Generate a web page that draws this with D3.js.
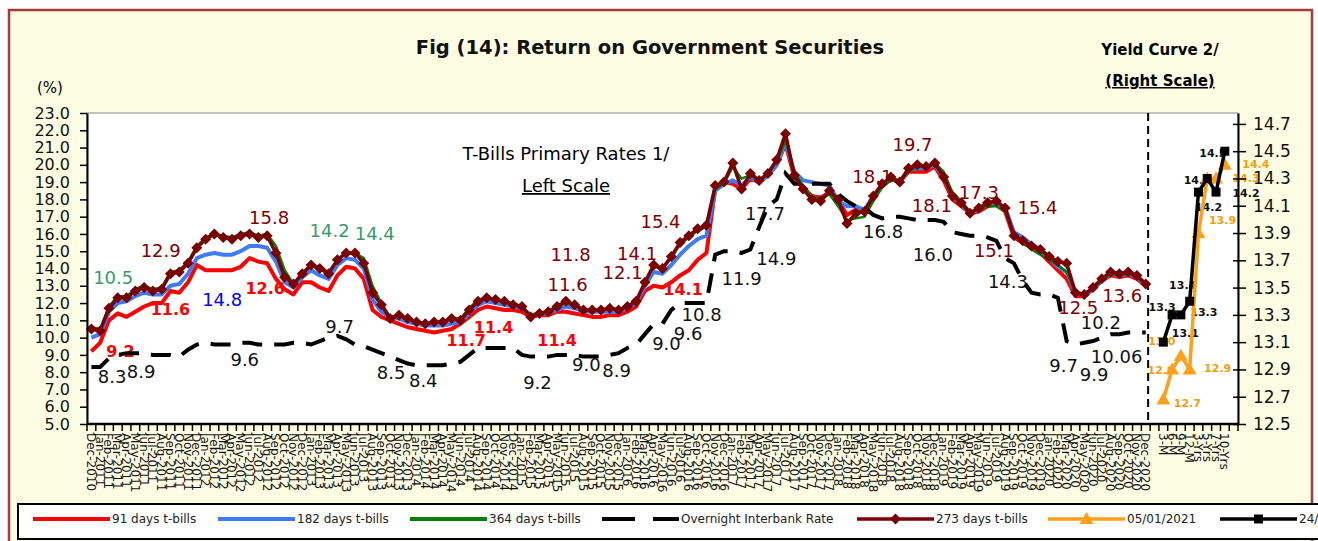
<!DOCTYPE html>
<html>
<head>
<meta charset="utf-8">
<script src="https://cdn.jsdelivr.net/npm/d3@7"></script>
<style>
html, body { margin: 0; padding: 0; background: #fff; }
svg { display: block; }
text { font-family: "DejaVu Sans", sans-serif; }
</style>
</head>
<body>
<svg id="chart" width="1318" height="541"></svg>
<script>
// ---- data ----
const monthNames = ["Jan","Feb","Mar","Apr","May","Jun","Jul","Aug","Sep","Oct","Nov","Dec"];
const yearList = ["2010","2011","2012","2013","2014","2015","2016","2017","2018","2019","2020"];
const tenors = ["3-M","6-M","9-M","12-M","3-Yrs","5-Yrs","7-Yrs","10-Yrs"];

const t91 = [9.2,9.7,11.0,11.4,11.2,11.5,11.8,12.0,12.0,12.7,
  12.6,13.2,14.2,13.9,13.9,13.9,13.9,14.1,14.6,14.4,
  14.3,13.4,12.8,12.5,13.2,13.2,12.9,12.7,13.6,14.1,
  14.0,13.4,11.6,11.2,11.0,10.8,10.6,10.5,10.4,10.3,
  10.4,10.5,10.8,11.2,11.6,11.8,11.7,11.6,11.6,11.5,
  11.2,11.3,11.3,11.5,11.5,11.4,11.3,11.2,11.2,11.3,
  11.3,11.5,11.8,12.7,13.0,12.9,13.2,13.6,13.9,14.5,
  14.9,18.6,19.0,18.9,18.6,19.2,19.0,19.4,20.0,21.2,
  19.3,18.6,18.2,18.1,18.4,17.9,17.1,17.4,17.3,18.1,
  18.8,19.2,19.0,19.6,19.6,19.6,19.9,19.1,18.0,17.6,
  17.2,17.3,17.6,17.7,17.3,15.8,15.5,15.2,14.9,14.4,
  13.9,13.4,12.4,12.4,12.8,13.3,13.6,13.5,13.6,13.4,
  13.0];

const t182 = [10.0,10.2,11.5,12.0,12.1,12.4,12.6,12.5,12.5,13.0,
  13.1,13.7,14.6,14.8,14.9,14.8,14.8,15.0,15.3,15.3,
  15.2,14.4,13.2,12.9,13.5,13.9,13.6,13.4,14.2,14.6,
  14.5,14.0,12.2,11.5,11.2,11.1,10.9,10.8,10.7,10.7,
  10.7,10.8,10.9,11.4,11.9,12.1,12.0,11.9,11.8,11.7,
  11.3,11.4,11.4,11.6,11.8,11.7,11.5,11.5,11.5,11.5,
  11.5,11.7,12.0,13.0,13.8,13.7,14.2,14.8,15.3,15.7,
  15.9,18.5,18.9,19.1,18.8,19.3,19.0,19.4,20.0,21.3,
  19.6,19.1,19.0,18.9,18.8,17.9,17.6,17.6,17.4,18.2,
  18.8,19.2,19.0,19.7,19.8,19.8,20.0,19.3,18.2,17.7,
  17.2,17.4,17.7,17.8,17.5,16.1,15.8,15.4,15.1,14.6,
  14.1,13.8,12.6,12.5,12.8,13.3,13.7,13.6,13.7,13.5,
  13.1];

const t364 = [10.6,10.5,11.8,12.4,12.4,12.8,13.0,12.8,12.9,13.8,
  13.9,14.4,15.3,15.8,16.0,15.9,15.8,16.0,16.1,15.9,
  16.0,15.3,13.9,13.1,13.7,14.2,14.1,13.8,14.5,14.9,
  14.9,14.6,13.0,12.0,11.2,11.3,11.1,10.9,10.8,10.9,
  10.9,11.1,11.1,11.7,12.2,12.3,12.2,12.1,12.0,11.8,
  11.3,11.4,11.5,11.8,12.0,11.9,11.6,11.6,11.6,11.7,
  11.6,11.8,12.1,13.2,14.1,14.0,14.6,15.4,15.8,16.2,
  16.4,18.6,18.9,19.9,19.2,19.4,19.1,19.5,20.2,21.4,
  19.6,18.8,18.2,18.0,18.3,17.6,16.8,16.9,17.0,17.9,
  18.7,19.1,19.0,19.6,19.9,19.9,20.1,19.6,18.4,17.9,
  17.3,17.4,17.6,17.6,17.3,16.0,15.5,15.1,14.8,14.5,
  14.2,13.8,12.6,12.5,12.8,13.3,13.7,13.6,13.7,13.5,
  13.1];

const t273 = [10.5,10.4,11.7,12.3,12.3,12.7,12.9,12.7,12.8,13.7,
  13.8,14.3,15.2,15.7,16.0,15.8,15.7,15.9,16.0,15.8,
  15.9,14.9,13.5,13.1,13.7,14.2,14.0,13.7,14.5,14.9,
  14.9,14.3,12.6,11.9,11.1,11.3,11.1,10.9,10.8,10.9,
  10.9,11.1,11.0,11.6,12.1,12.3,12.2,12.1,11.9,11.8,
  11.2,11.4,11.5,11.8,12.1,11.9,11.6,11.6,11.6,11.7,
  11.6,11.8,12.1,13.2,14.2,14.0,14.7,15.5,15.9,16.3,
  16.5,18.8,19.0,20.1,18.6,19.5,19.1,19.5,20.3,21.8,
  19.4,18.6,18.0,17.9,18.5,18.0,16.6,17.2,17.3,18.2,
  18.9,19.3,19.0,19.8,20.0,19.9,20.1,19.3,18.2,17.8,
  17.2,17.5,17.8,17.9,17.5,15.9,15.6,15.3,15.1,14.7,
  14.4,14.3,12.6,12.5,12.9,13.4,13.8,13.7,13.8,13.6,
  13.1];

const overnight = [8.3,8.3,8.8,9.0,9.1,9.1,9.1,9.0,9.0,9.0,
  8.9,9.3,9.6,9.7,9.6,9.6,9.6,9.7,9.7,9.6,
  9.6,9.6,9.6,9.7,9.7,9.6,9.8,10.0,10.1,9.9,
  9.6,9.5,9.3,9.1,8.9,8.7,8.5,8.4,8.4,8.4,
  8.4,8.5,8.6,9.0,9.4,9.4,9.4,9.4,9.4,9.0,
  8.9,8.9,8.9,9.0,9.0,9.0,8.9,8.9,8.9,9.0,
  9.1,9.4,9.6,10.2,10.8,10.8,11.6,12.0,12.0,12.0,
  12.0,14.8,15.0,15.0,14.9,15.1,16.4,17.6,18.0,19.5,
  18.9,18.9,18.9,18.9,18.9,18.3,17.9,17.6,17.5,17.1,
  16.9,17.0,17.0,16.9,16.8,16.8,16.8,16.7,16.1,16.0,
  15.9,15.9,15.8,15.6,14.6,14.3,13.3,12.6,12.5,12.5,
  12.3,9.8,9.6,9.7,9.8,10.0,10.2,10.2,10.3,10.3,
  10.3];

const curve0501 = [12.68,12.9,13.0,12.9,13.9,14.3,14.3,14.4];
const curve2412 = [13.1,13.3,13.3,13.4,14.2,14.3,14.2,14.5];

const leftTicks = [5,6,7,8,9,10,11,12,13,14,15,16,17,18,19,20,21,22,23];
const rightTicks = [12.5,12.7,12.9,13.1,13.3,13.5,13.7,13.9,14.1,14.3,14.5,14.7];

// month categories Dec-2010 .. Dec-2020
const months = [];
for (let k = 0; k < t273.length; k++) {
  const m = (11 + k) % 12, y = Math.floor((11 + k) / 12);
  months.push(monthNames[m] + "-" + yearList[y]);
}
const categories = months.concat([" "], tenors, ["  "]);

// ---- layout ----
const M = { left: 87, right: 1238, top: 113, bottom: 424 };
const svg = d3.select("#chart");

const x = d3.scaleBand().domain(categories).range([M.left, M.right]);
const cx = c => x(c) + x.bandwidth() / 2;
const yL = d3.scaleLinear().domain([5, 23]).range([M.bottom, M.top]);
const yR = d3.scaleLinear().domain([12.5, 14.78]).range([M.bottom, M.top]);

// outer frame
svg.append("rect").attr("x", 9).attr("y", 10).attr("width", 1303).attr("height", 600)
  .attr("fill", "#fdfde3").attr("stroke", "#a83a3a").attr("stroke-width", 2.5);

// titles
svg.append("text").attr("x", 650).attr("y", 54).attr("text-anchor", "middle")
  .attr("font-size", 19.5).attr("font-weight", "bold").attr("fill", "#111")
  .text("Fig (14): Return on Government Securities");
svg.append("text").attr("x", 1160).attr("y", 55).attr("text-anchor", "middle")
  .attr("font-size", 15).attr("font-weight", "bold").text("Yield Curve 2/");
svg.append("text").attr("x", 1160).attr("y", 86).attr("text-anchor", "middle")
  .attr("font-size", 15).attr("font-weight", "bold").attr("text-decoration", "underline")
  .text("(Right Scale)");
svg.append("text").attr("x", 50).attr("y", 93).attr("text-anchor", "middle")
  .attr("font-size", 15).text("(%)");

// plot area
svg.append("rect").attr("x", M.left).attr("y", M.top)
  .attr("width", M.right - M.left).attr("height", M.bottom - M.top)
  .attr("fill", "#fff").attr("stroke", "#888").attr("stroke-width", 1);

svg.append("text").attr("x", 566).attr("y", 160).attr("text-anchor", "middle")
  .attr("font-size", 18).text("T-Bills Primary Rates 1/");
svg.append("text").attr("x", 566).attr("y", 192).attr("text-anchor", "middle")
  .attr("font-size", 18).attr("text-decoration", "underline").text("Left Scale");

// separator between history and yield curve
svg.append("line").attr("x1", x(" ") - 2).attr("x2", x(" ") - 2)
  .attr("y1", M.top).attr("y2", M.bottom)
  .attr("stroke", "#000").attr("stroke-width", 2).attr("stroke-dasharray", "8,5");

// ---- data labels (drawn under the series, as in the source) ----
// [text, index, dx, dy]
const lab273 = [["12.9",8,-1,-39],["15.8",20,2,-18],["11.8",55,-4,-50],["11.6",55,-7,-20],
  ["12.1",60,4,-37],["14.1",62,1,-48],["15.4",65,-2,-47],["18.1",89,-1,-19],
  ["19.7",93,4,-24],["18.1",96,-3,42],["17.3",101,0,-16],["15.4",107,6,-39],
  ["15.1",105,-20,15],["12.5",113,-6,13],["13.6",118,-6,24]];
const lab364 = [["10.5",1,13,-51],["14.2",27,1,-41],["14.4",31,11,-25]];
const lab182 = [["14.8",15,-1,45]];
const lab91 = [["9.2",0,29,0],["11.6",9,0,19],["12.6",20,-2,25],["11.7",43,-3,24],
  ["11.4",46,-2,19],["11.4",53,0,29],["14.1",67,3,14]];
const labON = [["8.3",1,12,10],["8.9",6,-3,18],["9.6",17,4,17],["9.7",27,11,-11],
  ["8.5",34,1,16],["8.4",38,-2,15],["9.2",51,-2,26],["9.0",56,3,8],["8.9",60,-2,17],
  ["9.0",65,4,20],["9.6",67,8,30],["10.8",69,4,11],["11.9",74,0,26],["14.9",75,26,9],
  ["17.7",77,-3,7],["16.8",90,1,13],["16.0",96,-2,34],["14.3",105,-6,18],
  ["10.2",115,-1,-15],["9.7",111,-3,24],["9.9",114,1,33],["10.06",116,6,22]];
const labC24 = [["13.1",0,22,-9],["13.3",1,-10,-7],["13.3",2,23,-2],["13.4",3,-7,-16],
  ["14.2",4,10,15],["14.3",5,-10,2],["14.2",6,30,1],["14.5",7,-12,2]];
const labC05 = [["12.7",0,24,4],["12.9",1,-11,1],["13.0",2,-19,-14],["12.9",3,28,-1],
  ["13.9",4,24,-13],["14.3",6,30,0],["14.4",7,31,0]];

const gLab = svg.append("g").attr("dominant-baseline", "central").attr("text-anchor", "middle");
function addLabels(list, vals, cats, ys, color, size, weight) {
  list.forEach(([t, i, dx, dy]) => {
    gLab.append("text").attr("x", cx(cats[i]) + dx).attr("y", ys(vals[i]) + dy)
      .attr("fill", color).attr("font-size", size).attr("font-weight", weight).text(t);
  });
}
addLabels(lab273, t273, months, yL, "#800000", 18, "normal");
addLabels(lab364, t364, months, yL, "#3a9a6a", 18, "normal");
addLabels(lab182, t182, months, yL, "#0000ff", 18, "normal");
addLabels(lab91, t91, months, yL, "#ff0000", 16, "bold");
addLabels(labON, overnight, months, yL, "#111", 18, "normal");
addLabels(labC24, curve2412, tenors, yR, "#111", 11, "bold");
addLabels(labC05, curve0501, tenors, yR, "#f59e10", 11, "bold");

// ---- series ----
const lineL = d3.line().x((d, i) => cx(months[i])).y(d => yL(d));
const lineR = d3.line().x((d, i) => cx(tenors[i])).y(d => yR(d));

svg.append("path").attr("d", lineL(t91)).attr("fill", "none").attr("stroke", "#ff0000").attr("stroke-width", 4).attr("stroke-linejoin", "round");
svg.append("path").attr("d", lineL(t182)).attr("fill", "none").attr("stroke", "#3d7cf5").attr("stroke-width", 4).attr("stroke-linejoin", "round");
svg.append("path").attr("d", lineL(t364)).attr("fill", "none").attr("stroke", "#008000").attr("stroke-width", 2.5).attr("stroke-linejoin", "round");
svg.append("path").attr("d", lineL(overnight)).attr("fill", "none").attr("stroke", "#000").attr("stroke-width", 4).attr("stroke-dasharray", "20,12");
svg.append("path").attr("d", lineL(t273)).attr("fill", "none").attr("stroke", "#7a0000").attr("stroke-width", 3.5).attr("stroke-linejoin", "round");

const diamond = "M0,-5.5L5.5,0L0,5.5L-5.5,0Z";
const triangle = "M0,-7L7,5L-7,5Z";
const square = "M-4.5,-4.5h9v9h-9Z";

svg.append("g").selectAll("path").data(t273).join("path")
  .attr("d", diamond).attr("fill", "#7a0000")
  .attr("transform", (d, i) => `translate(${cx(months[i])},${yL(d)})`);

svg.append("path").attr("d", lineR(curve0501)).attr("fill", "none").attr("stroke", "#ffa01a").attr("stroke-width", 3.5);
svg.append("g").selectAll("path").data(curve0501).join("path")
  .attr("d", triangle).attr("fill", "#ffa01a")
  .attr("transform", (d, i) => `translate(${cx(tenors[i])},${yR(d)})`);
svg.append("path").attr("d", lineR(curve2412)).attr("fill", "none").attr("stroke", "#000").attr("stroke-width", 3.5);
svg.append("g").selectAll("path").data(curve2412).join("path")
  .attr("d", square).attr("fill", "#000")
  .attr("transform", (d, i) => `translate(${cx(tenors[i])},${yR(d)})`);

// ---- axes ----
const axL = svg.append("g").attr("transform", `translate(${M.left},0)`)
  .call(d3.axisLeft(yL).tickValues(leftTicks).tickFormat(d3.format(".1f")).tickSize(7).tickPadding(10).tickSizeOuter(0));
const axR = svg.append("g").attr("transform", `translate(${M.right},0)`)
  .call(d3.axisRight(yR).tickValues(rightTicks).tickFormat(d3.format(".1f")).tickSize(8).tickPadding(7).tickSizeOuter(0));
axR.selectAll(".tick line").attr("x1", -5);
[axL, axR].forEach(a => {
  a.select(".domain").attr("stroke", "#000").attr("stroke-width", 2);
  a.selectAll(".tick line").attr("stroke", "#000").attr("stroke-width", 1.5);
  a.selectAll(".tick text").attr("fill", "#111").attr("font-family", "DejaVu Sans");
});
axL.selectAll(".tick text").attr("font-size", 16);
axR.selectAll(".tick text").attr("font-size", 17);

// category axis: ticks between categories, rotated labels
const axB = svg.append("g");
axB.append("line").attr("x1", M.left).attr("x2", M.right).attr("y1", M.bottom).attr("y2", M.bottom)
  .attr("stroke", "#000").attr("stroke-width", 2.5);
axB.selectAll("line.tk").data(categories.concat(["end"])).join("line").attr("class", "tk")
  .attr("x1", c => c === "end" ? M.right : x(c)).attr("x2", c => c === "end" ? M.right : x(c))
  .attr("y1", M.bottom).attr("y2", M.bottom + 7)
  .attr("stroke", "#000").attr("stroke-width", 1.5);
axB.selectAll("text").data(categories).join("text")
  .attr("transform", c => `translate(${cx(c) - 4.5},${M.bottom + 9}) rotate(90)`)
  .attr("font-size", 12).attr("font-family", "Liberation Sans").attr("fill", "#111")
  .text(c => c.trim());

// ---- legend ----
svg.append("rect").attr("x", 18).attr("y", 504).attr("width", 1310).attr("height", 35)
  .attr("fill", "#fff").attr("stroke", "#000").attr("stroke-width", 2);
const legY = 519;
const legend = [
  { name: "91 days t-bills", x0: 33, color: "#ff0000", w: 4 },
  { name: "182 days t-bills", x0: 218, color: "#3d7cf5", w: 4 },
  { name: "364 days t-bills", x0: 410, color: "#008000", w: 4 },
  { name: "Overnight Interbank Rate", x0: 602, color: "#000", w: 4, dash: "33,18" },
  { name: "273 days t-bills", x0: 857, color: "#7a0000", w: 3.5, mark: diamond },
  { name: "05/01/2021", x0: 1048, color: "#ffa01a", w: 3.5, mark: triangle },
  { name: "24/12/2020", x0: 1220, color: "#000", w: 3.5, mark: square }
];
legend.forEach(l => {
  svg.append("line").attr("x1", l.x0).attr("x2", l.x0 + 77).attr("y1", legY).attr("y2", legY)
    .attr("stroke", l.color).attr("stroke-width", l.w).attr("stroke-dasharray", l.dash || null);
  if (l.mark) svg.append("path").attr("d", l.mark).attr("fill", l.color)
    .attr("transform", `translate(${l.x0 + 38.5},${legY})`);
  svg.append("text").attr("x", l.x0 + 79).attr("y", legY).attr("dominant-baseline", "central")
    .attr("font-size", 12).attr("font-family", "Liberation Sans").attr("fill", "#222").text(l.name);
});
</script>
</body>
</html>
